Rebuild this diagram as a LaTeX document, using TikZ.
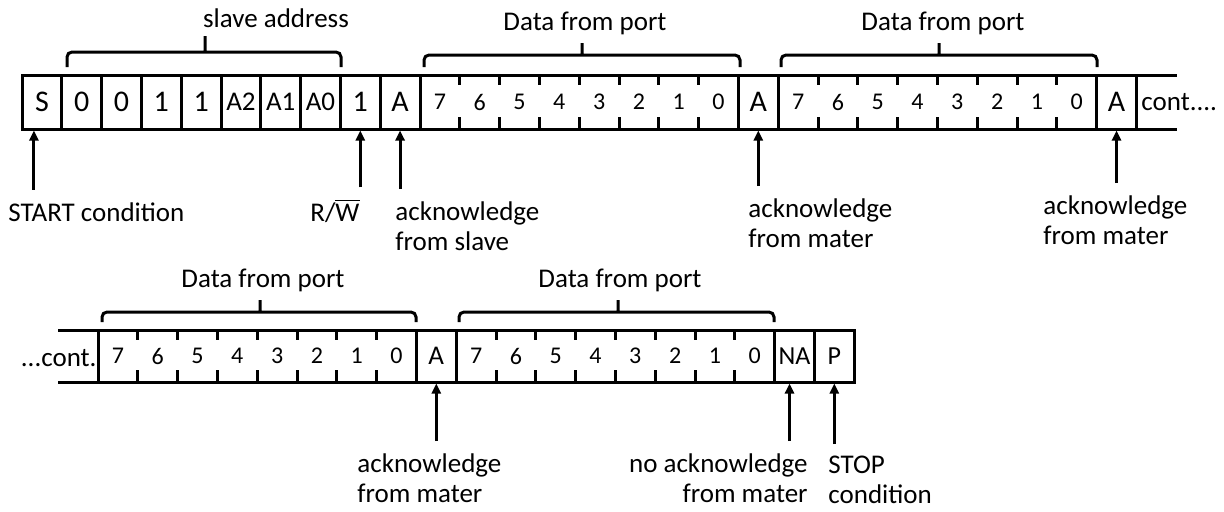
\documentclass[tikz,border=0pt]{standalone}
\usepackage{fontspec}
\setmainfont{Carlito}
\usetikzlibrary{arrows.meta}
\begin{document}
\begin{tikzpicture}[x=0.5pt,y=-0.5pt,>={Triangle[length=5pt,width=4.5pt]},
  cell/.style={draw,line width=1.5pt,minimum width=19.9pt,minimum height=27pt,inner sep=0pt,font=\fontsize{15}{18}\selectfont},
  lowbit/.style={inner sep=0pt,font=\fontsize{12}{14}\selectfont},
  midbit/.style={font=\fontsize{13.5}{16}\selectfont},
  lbl/.style={inner sep=0pt,font=\fontsize{13.5}{15}\selectfont},
  sig/.style={line width=1.5pt,->,shorten <=6pt},
  brc/.style={line width=1.5pt,rounded corners=2.5pt}]
\useasboundingbox (0,0) rectangle (1224,511);
\draw[line width=1.5pt] (22,75) -- (1177,75) (22,129) -- (1177,129);
\foreach \lab [count=\i from 0] in {S,0,0,1,1}
  \node[cell] (c\i) at ({22+39.8*(\i+.5)},102) {\lab};
\foreach \lab [count=\i from 5] in {A2,A1,A0}
  \node[cell,midbit] (c\i) at ({22+39.8*(\i+.5)},102) {\lab};
\node[cell] (c8) at ({22+39.8*8.5},102) {1};
\node[cell] (c9) at ({22+39.8*9.5},102) {A};
\node[cell] (ack1) at ({22+39.8*18.5},102) {A};
\node[cell] (ack2) at ({22+39.8*27.5},102) {A};
\foreach \s in {10,19}{
  \foreach \lab [count=\j from 0] in {7,6,...,0}
    \node[lowbit] at ({22+39.8*(\s+\j+.5)},102) {\lab};
  \foreach \j in {1,...,7}
    \draw[line width=1.5pt] ({22+39.8*(\s+\j)},75) -- +(0,10) ({22+39.8*(\s+\j)},129) -- +(0,-12);
}
\node[lbl,anchor=west] at (1141,102) {cont....};

\draw[line width=1.5pt] (58,330) -- (855,330) (58,382) -- (855,382) (98,330) -- (98,382);
\node[lbl,anchor=east] at (97,358) {...cont.};
\foreach \s in {0,9}{
  \foreach \lab [count=\j from 0] in {7,6,...,0}
    \node[lowbit] at ({98+39.8*(\s+\j+.5)},356) {\lab};
  \foreach \j in {1,...,7}
    \draw[line width=1.5pt] ({98+39.8*(\s+\j)},330) -- +(0,10) ({98+39.8*(\s+\j)},382) -- +(0,-12);
}
\node[cell,minimum height=26pt,midbit] (ack3) at ({98+39.8*8.5},356) {A};
\node[cell,minimum height=26pt,font=\fontsize{13}{15}\selectfont] (na) at ({98+39.8*17.5},356) {NA};
\node[cell,minimum height=26pt,font=\fontsize{13}{15}\selectfont] (stop) at ({98+39.8*18.5},356) {P};

\foreach \xa/\xb/\xm/\yh/\dh/\yt in {67/341/205/52/15/36, 424/740/582/55/12/43, 781/1097/939/55/12/43, 102/416/260/312/10/300, 459/774/618/312/10/300}
  \draw[brc] (\xa,\yh+\dh) -- (\xa,\yh) -- (\xb,\yh) -- (\xb,\yh+\dh) (\xm,\yh) -- (\xm,\yt);
\node[lbl,anchor=base] at (276,27) {slave address};
\node[lbl,anchor=base] at (585,30) {Data from port};
\node[lbl,anchor=base] at (943,30) {Data from port};
\node[lbl,anchor=base] at (263,287) {Data from port};
\node[lbl,anchor=base] at (620,287) {Data from port};

\node[lbl,anchor=base west] (startlbl) at (8,221) {START condition};
\node[lbl,anchor=base west] (rwlbl) at (310,221) {R/$\overline{\hbox{W}}$};
\node[lbl,anchor=north west,align=left] (slavelbl) at (395,201) {acknowledge\\from slave};
\node[lbl,anchor=north west,align=left] (m1lbl) at (748,198) {acknowledge\\from mater};
\node[lbl,anchor=north west,align=left] (m2lbl) at (1043,195) {acknowledge\\from mater};
\node[lbl,anchor=north west,align=left] (m3lbl) at (357,453) {acknowledge\\from mater};
\node[lbl,anchor=north east,align=right] (nalbl) at (808,453) {no acknowledge\\from mater};
\node[lbl,anchor=north west,align=left] (stoplbl) at (828,456) {STOP\\condition};

\coordinate (st) at ([xshift=-4pt]c0.south);
\coordinate (nt) at ([xshift=-2.5pt]na.south);
\draw[sig] (startlbl.north -| st) -- (st);
\draw[sig] (rwlbl.north -| c8.south) -- (c8.south);
\draw[sig] (slavelbl.north -| c9.south) -- (c9.south);
\draw[sig] (m1lbl.north -| ack1.south) -- (ack1.south);
\draw[sig] (m2lbl.north -| ack2.south) -- (ack2.south);
\draw[sig] (m3lbl.north -| ack3.south) -- (ack3.south);
\draw[sig] (nalbl.north -| nt) -- (nt);
\draw[sig] (stoplbl.north -| stop.south) -- (stop.south);
\end{tikzpicture}
\end{document}
